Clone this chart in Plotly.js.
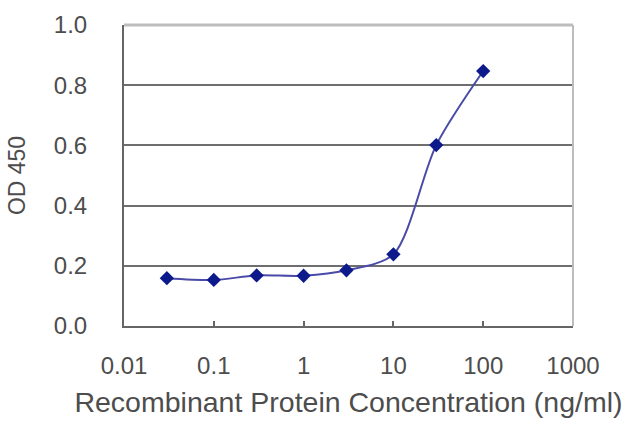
<!DOCTYPE html>
<html>
<head>
<meta charset="utf-8">
<script src="https://cdn.plot.ly/plotly-3.0.1.min.js"></script>
<style>html,body{margin:0;padding:0;background:#fff;}#chart{width:640px;height:427px;}</style>
</head>
<body>
<div id="chart"></div>
<script>
const concentration = [0.03, 0.1, 0.3, 1, 3, 10, 30, 100];
const od450 = [0.159, 0.153, 0.168, 0.167, 0.185, 0.238, 0.601, 0.847];
const xTickVals = [0.01, 0.1, 1, 10, 100, 1000];
const xTickText = ["0.01", "0.1", "1", "10", "100", "1000"];
const yTickVals = [0, 0.2, 0.4, 0.6, 0.8, 1.0];
const yTickText = ["0.0", "0.2", "0.4", "0.6", "0.8", "1.0"];

const textColor = "#4d4d4d";
const fontFam = "Liberation Sans, Arial, sans-serif";

const trace = {
  x: concentration,
  y: od450,
  type: "scatter",
  mode: "lines+markers",
  line: {shape: "spline", smoothing: 0.8, color: "#4a4aa8", width: 2},
  marker: {symbol: "diamond", size: 11, color: "#0c1a8c"},
  hoverinfo: "x+y"
};

const layout = {
  width: 640, height: 427,
  margin: {l: 124, r: 67, t: 25, b: 101, pad: 0},
  paper_bgcolor: "#ffffff",
  plot_bgcolor: "#ffffff",
  showlegend: false,
  font: {family: fontFam, color: textColor},
  xaxis: {
    type: "log",
    range: [-2, 3],
    tickvals: xTickVals,
    ticktext: xTickText,
    ticks: "inside",
    ticklen: 5,
    tickwidth: 2,
    tickcolor: "#666666",
    showgrid: false,
    zeroline: false,
    showline: true,
    linecolor: "#666666",
    linewidth: 2,
    ticklabelstandoff: 17,
    tickfont: {size: 24, color: textColor, family: fontFam},
    title: {text: "Recombinant Protein Concentration (ng/ml)", font: {size: 28.5, color: textColor, family: fontFam}, standoff: 14}
  },
  yaxis: {
    range: [0, 1.0],
    tickvals: yTickVals,
    ticktext: yTickText,
    ticks: "",
    showgrid: true,
    gridcolor: "#6e6e6e",
    gridwidth: 2,
    zeroline: false,
    showline: true,
    linecolor: "#666666",
    linewidth: 2,
    ticklabelstandoff: 30,
    tickfont: {size: 24, color: textColor, family: fontFam},
    title: {text: "OD 450", font: {size: 23, color: textColor, family: fontFam}, standoff: 22}
  },
  shapes: [
    {type: "line", xref: "paper", yref: "paper", x0: 0, x1: 1, y0: 1, y1: 1, line: {color: "#bdbdbd", width: 3}, layer: "above"},
    {type: "line", xref: "paper", yref: "paper", x0: 1, x1: 1, y0: 0, y1: 1, line: {color: "#bdbdbd", width: 2}, layer: "above"}
  ]
};

Plotly.newPlot("chart", [trace], layout, {displayModeBar: false, staticPlot: true});
</script>
</body>
</html>
